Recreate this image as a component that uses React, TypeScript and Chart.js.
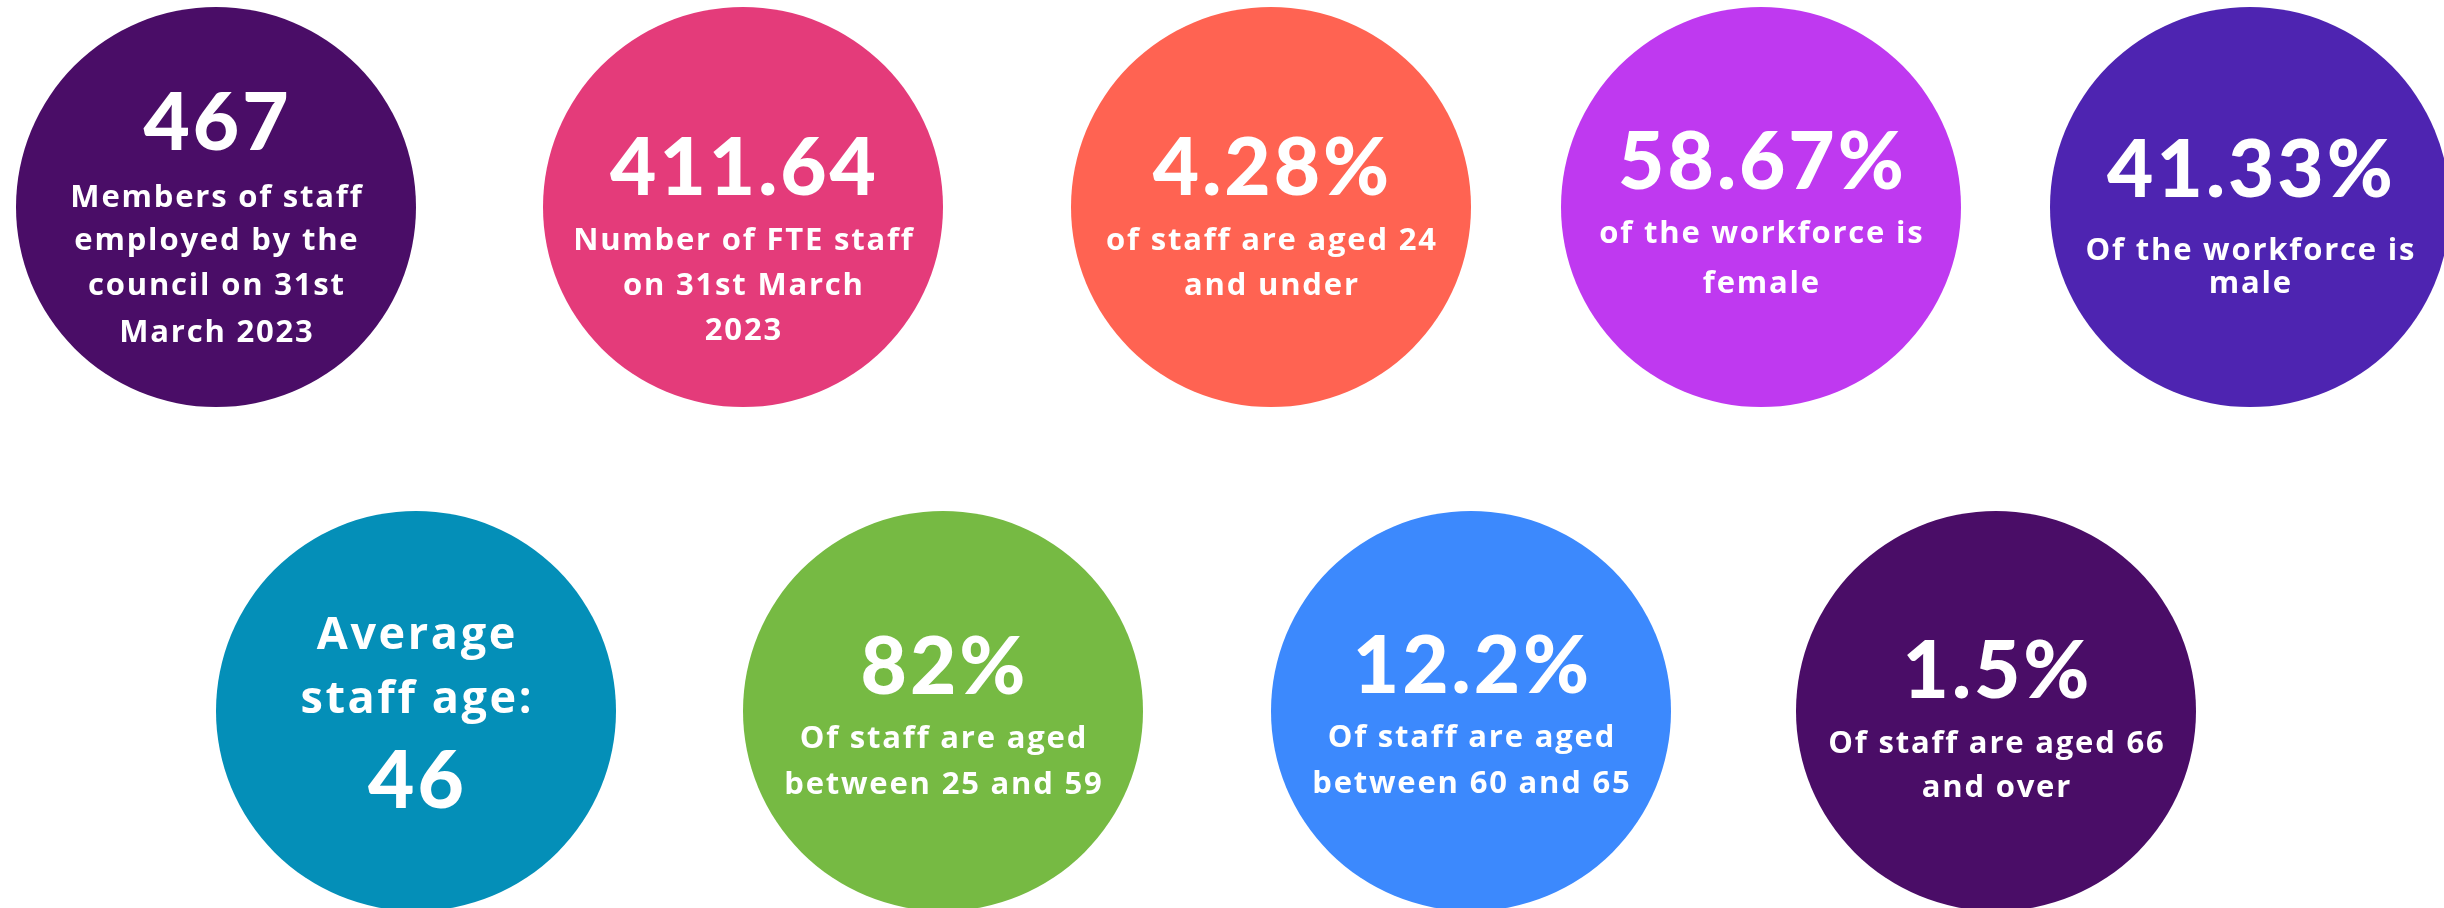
import React, { useEffect, useRef } from "react";
import { Chart, registerables } from "chart.js";

Chart.register(...registerables);

// ---- content ----
const headlineValues = ["467", "411.64", "4.28%", "58.67%", "41.33%", "46", "82%", "12.2%", "1.5%"];
const captionLines: string[][] = [
  ["Members of staff", "employed by the", "council on 31st", "March 2023"],
  ["Number of FTE staff", "on 31st March", "2023"],
  ["of staff are aged 24", "and under"],
  ["of the workforce is", "female"],
  ["Of the workforce is", "male"],
  ["Average", "staff age:"],
  ["Of staff are aged", "between 25 and 59"],
  ["Of staff are aged", "between 60 and 65"],
  ["Of staff are aged 66", "and over"],
];
const bubbleColors = ["#4A0D67", "#E43B7A", "#FF6352", "#BF39F0", "#4E24B1", "#048FB8", "#76BA43", "#3C89FD", "#4A0D67"];

// ---- layout (grid placement of each circle) ----
const centerX = [216, 743, 1271, 1761, 2250, 416, 943, 1471, 1996];
const centerY = [207, 207, 207, 207, 207, 711, 711, 711, 711];
const bubbleRadius = [200, 200, 200, 200, 200, 200, 200, 200, 200];

// ---- text style offsets (relative to circle centre) ----
const headlineDy = [-57, -12, -12, -18, -10, 97, -17, -18, -13];
const captionDy: number[][] = [
  [0, 43, 88, 135],
  [43, 88, 133],
  [43, 88],
  [36, 86],
  [53, 86],
  [-62, 2],
  [37, 83],
  [36, 82],
  [42, 86],
];
const captionSize = [31, 31, 31, 31, 31, 45, 31, 31, 31];
const HEAD_FONT = "Lato, 'Open Sans', sans-serif";
const CAP_FONT = "'Open Sans', Lato, sans-serif";

const W = 2444;
const H = 908;

function drawSpaced(ctx: any, text: string, x: number, y: number, spacing: number) {
  ctx.letterSpacing = `${spacing}px`;
  ctx.fillText(text, x + spacing / 2, y);
  ctx.letterSpacing = "0px";
}

const textPlugin = {
  id: "circleText",
  afterDatasetsDraw(chart: any) {
    const ctx = chart.ctx;
    const meta = chart.getDatasetMeta(0);
    ctx.save();
    ctx.fillStyle = "#ffffff";
    ctx.textAlign = "center";
    ctx.textBaseline = "alphabetic";
    meta.data.forEach((el: any, i: number) => {
      const x = el.x;
      const y = el.y;
      ctx.font = `900 80px ${HEAD_FONT}`;
      drawSpaced(ctx, headlineValues[i], x, y + headlineDy[i], 3);
      ctx.font = `700 ${captionSize[i]}px ${CAP_FONT}`;
      const sp = 1.8 * captionSize[i] / 31;
      captionLines[i].forEach((line, j) => {
        drawSpaced(ctx, line, x, y + captionDy[i][j], sp);
      });
    });
    ctx.restore();
  },
};

export default function App() {
  const ref = useRef<HTMLCanvasElement | null>(null);
  useEffect(() => {
    if (!ref.current) return;
    const chart = new Chart(ref.current, {
      type: "bubble",
      data: {
        datasets: [
          {
            data: centerX.map((x, i) => ({ x, y: centerY[i], r: bubbleRadius[i] })),
            backgroundColor: bubbleColors,
            borderWidth: 0,
            hoverBorderWidth: 0,
            clip: false as any,
          },
        ],
      },
      options: {
        responsive: false,
        animation: false,
        maintainAspectRatio: false,
        layout: { padding: 0, autoPadding: false },
        events: [],
        plugins: { legend: { display: false }, tooltip: { enabled: false } },
        scales: {
          x: { type: "linear", min: 0, max: W, display: false },
          y: { type: "linear", min: 0, max: H, reverse: true, display: false },
        },
      },
      plugins: [textPlugin],
    });
    return () => chart.destroy();
  }, []);
  return (
    <div style={{ position: "fixed", left: 0, top: 0, width: W, height: H, background: "#ffffff" }}>
      <canvas ref={ref} width={W} height={H} style={{ display: "block", width: W, height: H }} />
    </div>
  );
}
